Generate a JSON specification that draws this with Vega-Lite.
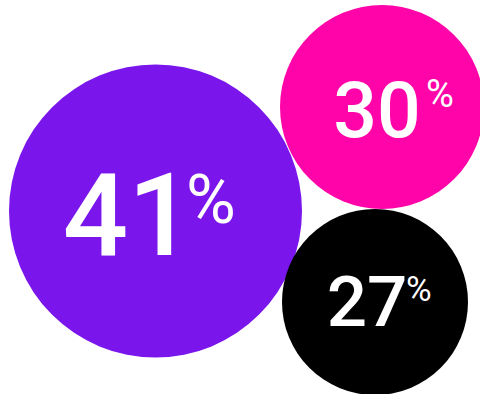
{
  "$schema": "https://vega.github.io/schema/vega-lite/v6.json",
  "width": 480,
  "height": 394,
  "autosize": {"type": "none"},
  "padding": 0,
  "config": {"view": {"stroke": null}},
  "data": {
    "values": [
      {"label": "41%", "num": "41", "pct": "%", "cx": 155.5, "cy": 211, "nx": 128, "ny": 255, "px": 186, "py": 223},
      {"label": "30%", "num": "30", "pct": "%", "cx": 382, "cy": 107, "nx": 377, "ny": 137, "px": 426, "py": 107},
      {"label": "27%", "num": "27", "pct": "%", "cx": 375, "cy": 302, "nx": 367, "ny": 326, "px": 406, "py": 301}
    ]
  },
  "layer": [
    {
      "mark": {"type": "point", "shape": "circle", "filled": true, "opacity": 1},
      "encoding": {
        "x": {"field": "cx", "type": "quantitative", "scale": {"domain": [0, 480], "nice": false, "zero": false}, "axis": null},
        "y": {"field": "cy", "type": "quantitative", "scale": {"domain": [0, 394], "reverse": true, "nice": false, "zero": false}, "axis": null},
        "size": {"field": "label", "type": "nominal", "scale": {"type": "ordinal", "domain": ["41%", "30%", "27%"], "range": [85849, 41616, 34596]}, "legend": null},
        "color": {"field": "label", "type": "nominal", "scale": {"domain": ["41%", "30%", "27%"], "range": ["#7a16ec", "#ff05a9", "#000000"]}, "legend": null}
      }
    },
    {
      "mark": {"type": "text", "font": "Roboto", "fontWeight": 500, "color": "white", "align": "center", "baseline": "alphabetic"},
      "encoding": {
        "x": {"field": "nx", "type": "quantitative", "scale": {"domain": [0, 480], "nice": false, "zero": false}, "axis": null},
        "y": {"field": "ny", "type": "quantitative", "scale": {"domain": [0, 394], "reverse": true, "nice": false, "zero": false}, "axis": null},
        "text": {"field": "num"},
        "size": {"field": "num", "type": "nominal", "scale": {"type": "ordinal", "domain": ["41", "30", "27"], "range": [115, 77, 71]}, "legend": null}
      }
    },
    {
      "mark": {"type": "text", "font": "Roboto", "fontWeight": 400, "color": "white", "align": "left", "baseline": "alphabetic"},
      "encoding": {
        "x": {"field": "px", "type": "quantitative", "scale": {"domain": [0, 480], "nice": false, "zero": false}, "axis": null},
        "y": {"field": "py", "type": "quantitative", "scale": {"domain": [0, 394], "reverse": true, "nice": false, "zero": false}, "axis": null},
        "text": {"field": "pct"},
        "size": {"field": "label", "type": "nominal", "scale": {"type": "ordinal", "domain": ["41%", "30%", "27%"], "range": [68, 38, 35]}, "legend": null}
      }
    }
  ],
  "resolve": {"scale": {"size": "independent"}}
}
